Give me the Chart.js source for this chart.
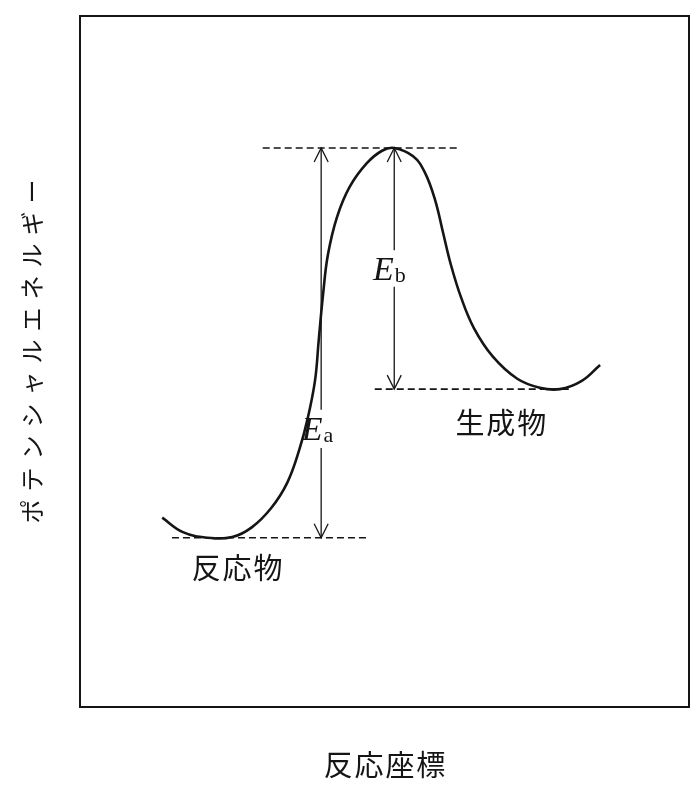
<!DOCTYPE html>
<html>
<head>
<meta charset="utf-8">
<script src="https://cdn.jsdelivr.net/npm/chart.js@4/dist/chart.umd.min.js"></script>
<style>
  body { margin: 0; background: #fff; }
</style>
</head>
<body>
<canvas id="energyChart" width="698" height="785"></canvas>
<script>
// reaction path (x = reaction coordinate, y = potential energy, both 0..100)
const pathX = [13.5, 16.9, 20.9, 25.0, 28.2, 31.4, 34.0, 36.0, 37.4, 38.6, 39.2, 39.9, 40.7, 42.2, 44.3, 47.1, 49.6, 51.6, 54.7, 56.6, 58.3, 59.6, 60.9, 62.6, 64.7, 67.8, 71.8, 75.5, 78.8, 82.4, 85.4];
const pathY = [27.4, 25.3, 24.5, 24.6, 26.0, 28.8, 32.4, 37.2, 41.8, 47.3, 53.1, 59.6, 65.4, 70.9, 75.3, 78.7, 80.5, 80.9, 79.7, 77.4, 73.4, 68.7, 64.0, 59.2, 54.8, 50.7, 47.5, 46.2, 46.0, 47.2, 49.5];

// energy levels: reactant, transition state, product
const levelNames = ["反応物", "遷移状態", "生成物"];
const levelY = [24.5, 80.9, 46.0];
const levelFromX = [15.1, 30.0, 48.4];
const levelToX = [47.3, 62.4, 80.5];

// labels of the levels (centre of text)
const levelLabelX = [25.8, null, 69.1];
const levelLabelY = [20.1, null, 41.1];

// activation energies: Ea (reactant -> top), Eb (product -> top)
const arrowNames = ["a", "b"];
const arrowX = [39.6, 51.6];
const arrowFrom = [24.5, 46.0];
const arrowTo = [80.9, 80.9];
const gapLow = [37.5, 60.8];
const gapHigh = [43.0, 66.1];
const arrowLabelX = [36.4, 48.1];
const arrowLabelY = [38.6, 61.8];

const xTitle = "反応座標".split("").join("\u200A");
const yTitle = "\u2002\u2004" + "ポテンシャルエネルギー".split("").join("\u2004");

const ink = "#151515";
const jpFont = '"Noto Sans CJK JP", "Noto Sans", sans-serif';

const datasets = [];

datasets.push({
    data: pathX.map((x, i) => ({ x: x, y: pathY[i] })),
    showLine: true,
    borderColor: ink,
    borderWidth: 2.6,
    pointRadius: 0,
    tension: 0.4
});

levelY.forEach((lv, i) => {
    datasets.push({
        data: [{ x: levelFromX[i], y: lv }, { x: levelToX[i], y: lv }],
        showLine: true,
        borderColor: ink,
        borderWidth: 1.6,
        borderDash: [7, 4],
        pointRadius: 0
    });
});

arrowX.forEach((ax, i) => {
    datasets.push({
        data: [{ x: ax, y: arrowFrom[i] }, { x: ax, y: gapLow[i] }],
        showLine: true, borderColor: ink, borderWidth: 1.3, pointRadius: 0
    });
    datasets.push({
        data: [{ x: ax, y: gapHigh[i] }, { x: ax, y: arrowTo[i] }],
        showLine: true, borderColor: ink, borderWidth: 1.3, pointRadius: 0
    });
});

function arrowHead(ctx, px, py, dir) {
    // dir = -1 points up, +1 points down
    ctx.beginPath();
    ctx.moveTo(px - 7, py - dir * 14);
    ctx.lineTo(px, py);
    ctx.lineTo(px + 7, py - dir * 14);
    ctx.stroke();
}

const annotate = {
    id: "annotate",
    afterDatasetsDraw(chart) {
        const { ctx, chartArea, scales } = chart;
        const sx = scales.x, sy = scales.y;
        ctx.save();

        ctx.strokeStyle = ink;
        ctx.lineWidth = 2;
        ctx.strokeRect(chartArea.left, chartArea.top, chartArea.width, chartArea.height);

        ctx.lineWidth = 1.3;
        arrowX.forEach((ax, i) => {
            const px = sx.getPixelForValue(ax);
            arrowHead(ctx, px, sy.getPixelForValue(arrowTo[i]), -1);
            arrowHead(ctx, px, sy.getPixelForValue(arrowFrom[i]), 1);

            const lx = sx.getPixelForValue(arrowLabelX[i]);
            const ly = sy.getPixelForValue(arrowLabelY[i]);
            ctx.fillStyle = ink;
            ctx.textBaseline = "alphabetic";
            ctx.textAlign = "left";
            ctx.font = 'italic 34px "Liberation Serif", "DejaVu Serif", serif';
            ctx.fillText("E", lx, ly);
            const w = ctx.measureText("E").width;
            ctx.font = '22px "Liberation Serif", "DejaVu Serif", serif';
            ctx.fillText(arrowNames[i], lx + w + 1, ly + 2);
        });

        ctx.font = "29px " + jpFont;
        ctx.textAlign = "center";
        ctx.textBaseline = "middle";
        levelNames.forEach((name, i) => {
            if (levelLabelX[i] === null) return;
            const spaced = name.split("").join("\u200A");
            ctx.fillText(spaced, sx.getPixelForValue(levelLabelX[i]), sy.getPixelForValue(levelLabelY[i]));
        });

        ctx.restore();
    }
};

new Chart(document.getElementById("energyChart"), {
    type: "scatter",
    data: { datasets: datasets },
    options: {
        responsive: false,
        animation: false,
        events: [],
        layout: { padding: { top: 16, right: 9, left: 0, bottom: 0 } },
        plugins: {
            legend: { display: false },
            tooltip: { enabled: false }
        },
        scales: {
            x: {
                type: "linear", min: 0, max: 100,
                ticks: { display: false },
                grid: { display: false, drawTicks: false },
                border: { display: false },
                title: {
                    display: true, text: xTitle, color: ink,
                    font: { family: jpFont, size: 29, lineHeight: 1.2 },
                    padding: { top: 40.2, bottom: 3 }
                }
            },
            y: {
                type: "linear", min: 0, max: 100,
                ticks: { display: false },
                grid: { display: false, drawTicks: false },
                border: { display: false },
                title: {
                    display: true, text: yTitle, color: ink,
                    font: { family: jpFont, size: 24, lineHeight: 1.2 },
                    padding: { top: 17.6, bottom: 33.6 }
                }
            }
        }
    },
    plugins: [annotate]
});
</script>
</body>
</html>
